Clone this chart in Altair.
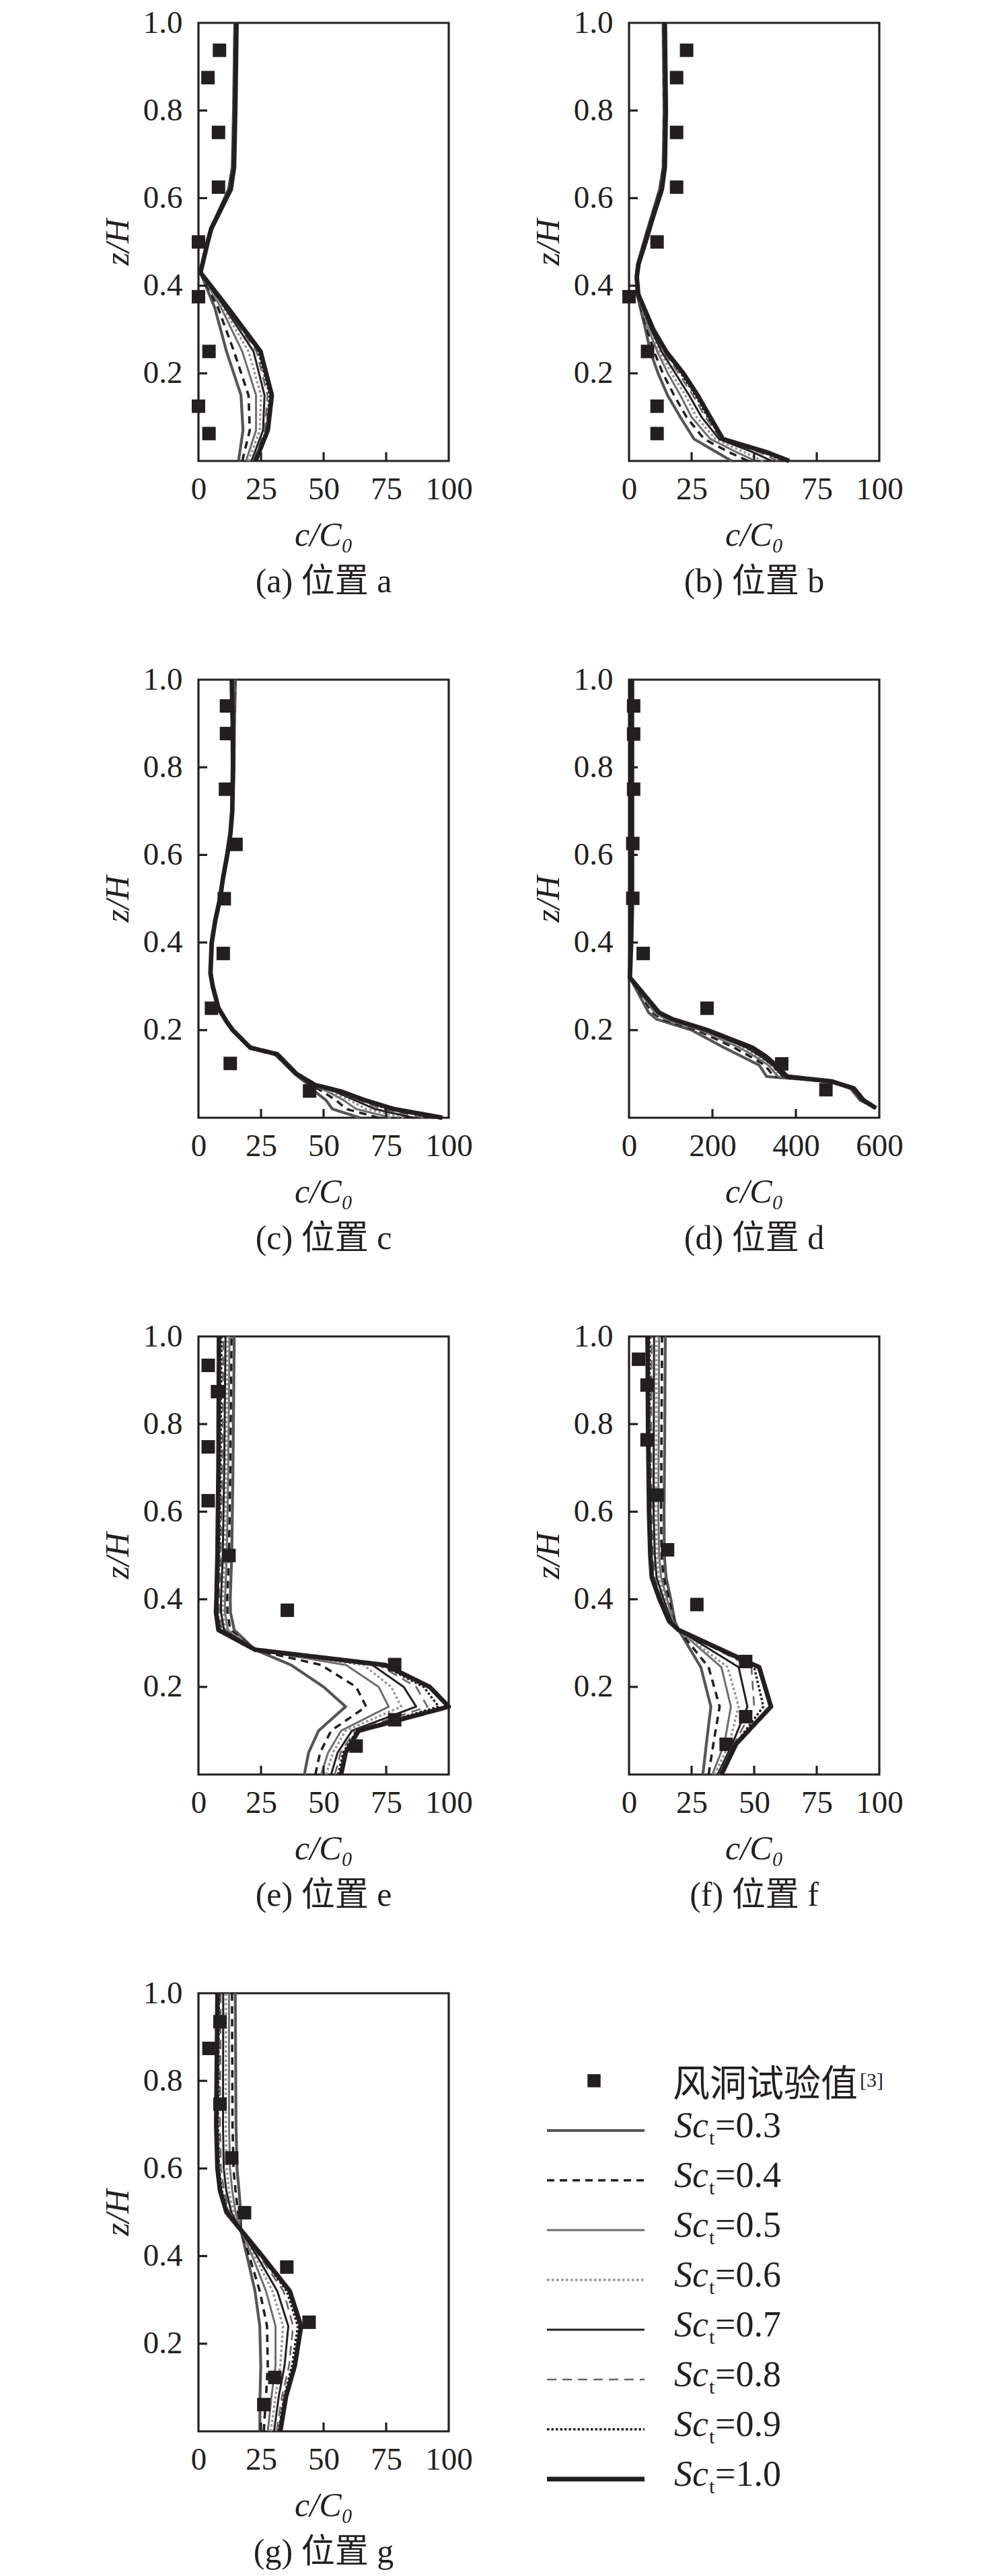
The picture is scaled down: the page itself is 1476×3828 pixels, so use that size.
import pandas as pd
import altair as alt

FONT = "Liberation Serif, Noto Sans CJK SC"
INK = "#231f20"
W, H = 372, 651

# --- series styling (Sc_t = 0.3 ... 1.0) ---
SC_LABELS = ["0.3", "0.4", "0.5", "0.6", "0.7", "0.8", "0.9", "1.0"]
SC_COLORS = ["#555555", "#231f20", "#6e6e6e", "#959595", "#231f20", "#666666", "#231f20", "#231f20"]
SC_DASHES = [[1, 0], [11, 8], [1, 0], [3.5, 3.5], [1, 0], [14, 9], [3.5, 3], [1, 0]]
SC_WIDTHS = [4.2, 3.6, 3.0, 3.4, 3.0, 2.6, 3.4, 6.8]

Y_TICKS = [0.2, 0.4, 0.6, 0.8, 1.0]
X_TICKS_100 = [0, 25, 50, 75, 100]
X_TICKS_600 = [0, 200, 400, 600]

# --- (a) ---
Z_A = [0.0, 0.07, 0.15, 0.25, 0.35, 0.43, 0.5, 0.53, 0.62, 0.67, 0.8, 1.0]
LINES_A = [
    [16.0, 17.8, 17.0, 11.2, 6.5, 0.8, 3.5, 4.8, 12.0, 13.5, 14.0, 14.5],
    [17.5, 20.5, 20.0, 14.2, 7.8, 0.8, 3.5, 4.8, 12.3, 13.7, 14.2, 14.7],
    [19.0, 23.0, 23.0, 17.5, 9.0, 0.8, 3.6, 4.9, 12.5, 13.8, 14.3, 14.8],
    [20.0, 24.5, 25.0, 20.0, 9.8, 0.8, 3.6, 4.9, 12.6, 13.9, 14.4, 14.9],
    [21.2, 25.8, 26.4, 22.0, 10.5, 0.8, 3.6, 5.0, 12.7, 14.0, 14.5, 15.0],
    [21.8, 26.5, 27.6, 23.2, 11.0, 0.8, 3.6, 5.0, 12.8, 14.0, 14.5, 15.0],
    [22.3, 27.2, 28.5, 24.0, 11.4, 0.8, 3.7, 5.0, 12.8, 14.1, 14.6, 15.1],
    [22.8, 27.7, 29.3, 24.8, 11.7, 0.8, 3.7, 5.1, 12.9, 14.2, 14.7, 15.2],
]
EXP_X_A = [8.4, 3.8, 8.0, 8.0, 0.0, 0.0, 4.2, 0.0, 4.2]
EXP_Z_A = [0.9375, 0.875, 0.75, 0.625, 0.5, 0.375, 0.25, 0.125, 0.0625]

# --- (b) ---
Z_B = [0.0, 0.02, 0.05, 0.1, 0.15, 0.2, 0.25, 0.3, 0.38, 0.42, 0.45, 0.5, 0.55, 0.62, 0.67, 0.8, 1.0]
LINES_B = [
    [41.0, 35.0, 26.0, 20.5, 15.4, 11.6, 8.5, 6.6, 3.2, 2.8, 3.4, 5.9, 8.5, 12.2, 13.6, 14.0, 13.6],
    [47.5, 40.0, 30.0, 23.0, 18.0, 13.5, 10.0, 7.2, 3.3, 2.8, 3.5, 6.0, 8.6, 12.4, 13.7, 14.1, 13.7],
    [50.5, 43.0, 32.5, 25.0, 20.5, 15.5, 11.3, 7.8, 3.4, 2.9, 3.5, 6.1, 8.7, 12.5, 13.8, 14.2, 13.8],
    [53.5, 46.0, 34.5, 27.0, 22.5, 17.0, 12.3, 8.3, 3.5, 2.9, 3.6, 6.2, 8.8, 12.7, 13.9, 14.3, 13.9],
    [57.0, 49.5, 36.0, 29.0, 24.0, 18.5, 13.0, 8.8, 3.5, 3.0, 3.6, 6.3, 8.9, 12.8, 14.0, 14.4, 14.0],
    [59.5, 52.0, 36.8, 30.5, 25.5, 19.8, 13.8, 9.2, 3.6, 3.0, 3.7, 6.4, 9.0, 12.9, 14.1, 14.5, 14.1],
    [62.0, 53.5, 37.2, 31.5, 26.5, 20.8, 14.3, 9.5, 3.6, 3.1, 3.7, 6.5, 9.1, 13.0, 14.2, 14.6, 14.2],
    [64.0, 55.0, 37.5, 32.4, 27.4, 21.7, 14.8, 9.7, 3.7, 3.1, 3.8, 6.6, 9.2, 13.1, 14.3, 14.7, 14.3],
]
EXP_X_B = [23.0, 19.0, 19.0, 19.0, 11.2, 0.0, 7.4, 11.2, 11.2]
EXP_Z_B = [0.9375, 0.875, 0.75, 0.625, 0.5, 0.375, 0.25, 0.125, 0.0625]

# --- (c) ---
Z_C = [0.0, 0.02, 0.04, 0.06, 0.075, 0.1, 0.145, 0.16, 0.2, 0.22, 0.25, 0.3, 0.33,
       0.4, 0.45, 0.5, 0.55, 0.6, 0.65, 0.7, 0.8, 0.9, 1.0]
LINES_C = [
    [64.5, 53.5, 51.0, 46.5, 44.0, 38.5, 30.5, 20.5, 13.7, 11.2, 8.0, 5.7, 4.8, 5.3, 6.7, 8.6, 9.9, 11.5, 12.8, 13.6, 14.2, 14.4, 14.8],
    [72.0, 59.0, 55.0, 49.5, 45.0, 38.7, 30.8, 20.6, 13.7, 11.2, 8.0, 5.7, 4.8, 5.3, 6.7, 8.6, 9.9, 11.5, 12.8, 13.6, 14.1, 14.3, 14.5],
    [77.0, 63.0, 58.0, 51.5, 45.5, 38.8, 31.0, 20.6, 13.7, 11.2, 8.0, 5.7, 4.8, 5.3, 6.7, 8.6, 9.9, 11.5, 12.8, 13.5, 14.0, 14.2, 14.3],
    [82.0, 67.0, 60.5, 53.0, 45.8, 38.9, 31.2, 20.7, 13.7, 11.2, 8.0, 5.7, 4.8, 5.3, 6.7, 8.6, 9.9, 11.5, 12.8, 13.5, 14.0, 14.1, 14.1],
    [86.0, 70.5, 62.5, 54.5, 46.0, 39.0, 31.3, 20.7, 13.7, 11.2, 8.0, 5.7, 4.8, 5.3, 6.7, 8.6, 9.9, 11.5, 12.8, 13.5, 13.9, 14.0, 13.9],
    [90.0, 73.0, 64.0, 55.5, 46.2, 39.0, 31.4, 20.7, 13.7, 11.2, 8.0, 5.7, 4.8, 5.3, 6.7, 8.6, 9.9, 11.5, 12.8, 13.5, 13.9, 13.9, 13.7],
    [94.0, 75.5, 65.5, 56.3, 46.4, 39.1, 31.5, 20.7, 13.7, 11.2, 8.0, 5.7, 4.8, 5.3, 6.7, 8.6, 9.9, 11.5, 12.8, 13.5, 13.8, 13.8, 13.5],
    [97.5, 78.0, 66.5, 57.0, 46.5, 39.2, 31.5, 20.7, 13.7, 11.2, 8.0, 5.7, 4.8, 5.3, 6.7, 8.6, 9.9, 11.5, 12.8, 13.5, 13.8, 13.7, 13.3],
]
EXP_X_C = [11.2, 11.2, 10.8, 15.0, 10.3, 9.9, 5.2, 12.7, 44.4]
EXP_Z_C = [0.94, 0.877, 0.75, 0.624, 0.5, 0.375, 0.25, 0.124, 0.061]

# --- (d) ---
Z_D = [0.022, 0.04, 0.067, 0.083, 0.094, 0.12, 0.14, 0.16, 0.2, 0.225, 0.24, 0.32, 0.4, 0.5, 0.6, 0.8, 1.0]
LINES_D = [
    [592, 554, 531, 480, 330, 312, 270, 228, 150, 66, 47, 2, 5, 7, 7, 7, 7],
    [592, 557, 534, 482, 347, 326, 290, 252, 163, 79, 56, 2, 5, 7, 7, 7, 7],
    [592, 558, 535, 483, 357, 334, 302, 265, 171, 87, 61, 2, 5, 7, 7, 7, 7],
    [592, 560, 537, 484, 364, 340, 311, 276, 177, 93, 65, 2, 5, 7, 7, 7, 7],
    [592, 560, 537, 485, 369, 344, 316, 282, 180, 96, 67, 2, 5, 7, 7, 7, 7],
    [592, 561, 538, 485, 373, 347, 321, 288, 183, 99, 69, 2, 5, 7, 7, 7, 7],
    [592, 561, 538, 486, 376, 350, 325, 292, 186, 102, 70, 2, 5, 7, 7, 7, 7],
    [592, 562, 539, 486, 379, 352, 328, 296, 188, 104, 72, 2, 5, 7, 7, 7, 7],
]
EXP_X_D = [11, 11, 11, 9, 9, 34, 187, 366, 472]
EXP_Z_D = [0.94, 0.876, 0.75, 0.626, 0.501, 0.375, 0.25, 0.123, 0.064]

# --- (e) ---
Z_E = [0.0, 0.05, 0.1, 0.155, 0.2, 0.25, 0.285, 0.33, 0.37, 0.4, 0.5, 0.7, 1.0]
LINES_E = [
    [42.3, 44.0, 48.0, 58.8, 50.0, 37.0, 22.6, 14.3, 12.8, 12.7, 13.3, 13.8, 14.3],
    [46.7, 48.6, 53.0, 67.0, 63.0, 49.0, 22.6, 12.8, 11.6, 11.5, 12.2, 12.7, 13.2],
    [49.0, 51.8, 57.0, 76.0, 72.0, 59.0, 22.6, 11.8, 10.6, 10.6, 11.3, 11.9, 12.4],
    [51.0, 53.7, 58.8, 81.0, 77.0, 66.0, 22.6, 11.0, 9.8, 9.8, 10.5, 11.1, 11.6],
    [53.0, 55.6, 61.3, 87.0, 82.0, 69.5, 22.6, 10.2, 9.0, 9.0, 9.7, 10.3, 10.8],
    [54.5, 56.8, 62.5, 91.5, 87.0, 72.0, 22.6, 9.4, 8.2, 8.2, 8.9, 9.5, 10.0],
    [55.8, 57.8, 63.3, 96.0, 90.0, 73.3, 22.6, 8.7, 7.6, 7.7, 8.3, 8.8, 9.2],
    [57.0, 58.8, 64.0, 100.0, 92.4, 74.6, 22.6, 8.0, 7.0, 7.2, 7.6, 8.0, 8.2],
]
EXP_X_E = [3.9, 7.6, 3.9, 3.9, 12.2, 35.5, 78.4, 78.4, 63.0]
EXP_Z_E = [0.934, 0.874, 0.748, 0.625, 0.5, 0.375, 0.251, 0.125, 0.065]

# --- (f) ---
Z_F = [0.0, 0.07, 0.155, 0.245, 0.33, 0.35, 0.4, 0.45, 0.5, 0.6, 0.8, 1.0]
LINES_F = [
    [29.5, 30.9, 32.7, 28.7, 19.8, 18.3, 16.7, 14.8, 14.1, 14.0, 14.3, 14.5],
    [31.8, 33.7, 36.2, 31.8, 19.8, 18.0, 16.0, 13.8, 13.0, 12.8, 13.0, 13.2],
    [33.3, 38.1, 40.7, 36.9, 19.8, 17.6, 15.2, 12.8, 12.0, 11.7, 11.9, 12.0],
    [34.3, 40.0, 43.8, 39.4, 19.8, 17.3, 14.5, 11.9, 11.1, 10.7, 10.9, 11.0],
    [35.4, 41.3, 47.3, 43.8, 19.8, 17.0, 13.8, 11.0, 10.3, 9.8, 9.9, 10.0],
    [36.0, 42.0, 50.0, 48.9, 19.8, 16.6, 13.2, 10.2, 9.6, 9.0, 8.9, 9.0],
    [36.5, 42.5, 53.7, 50.0, 19.8, 16.3, 12.7, 9.6, 9.0, 8.5, 8.2, 8.2],
    [36.9, 42.8, 56.7, 52.0, 19.8, 16.0, 12.2, 9.1, 8.5, 8.0, 7.6, 7.4],
]
EXP_X_F = [3.8, 7.2, 7.2, 11.2, 15.4, 27.1, 46.6, 46.6, 38.8]
EXP_Z_F = [0.948, 0.889, 0.764, 0.638, 0.513, 0.388, 0.258, 0.132, 0.069]

# --- (g) ---
Z_G = [0.0, 0.08, 0.15, 0.24, 0.32, 0.4, 0.46, 0.5, 0.55, 0.6, 0.7, 1.0]
LINES_G = [
    [24.5, 24.6, 24.9, 24.5, 22.6, 19.4, 16.9, 16.9, 16.2, 15.4, 15.0, 14.7],
    [26.1, 27.0, 27.7, 27.4, 24.5, 20.3, 16.9, 15.8, 14.8, 14.0, 13.6, 13.4],
    [27.7, 29.2, 30.8, 30.8, 27.0, 21.5, 16.9, 14.8, 13.5, 12.6, 12.2, 12.2],
    [28.9, 30.8, 32.7, 33.8, 29.6, 22.5, 16.9, 13.9, 12.2, 11.3, 10.9, 11.0],
    [30.2, 32.1, 34.4, 35.9, 31.5, 23.4, 16.9, 13.1, 11.1, 10.1, 9.8, 9.9],
    [31.2, 33.4, 36.2, 37.8, 34.0, 24.3, 16.9, 12.4, 10.2, 9.0, 8.6, 8.9],
    [32.0, 34.3, 37.4, 39.7, 35.3, 25.0, 16.9, 11.8, 9.3, 8.2, 7.8, 8.2],
    [32.7, 35.0, 38.5, 41.0, 36.5, 25.5, 16.9, 11.2, 8.6, 7.6, 7.1, 7.6],
]
EXP_X_G = [8.6, 4.2, 8.6, 13.3, 18.4, 35.3, 44.2, 30.5, 26.1]
EXP_Z_G = [0.935, 0.874, 0.747, 0.624, 0.499, 0.375, 0.249, 0.123, 0.061]

PANELS = [
    ("(a) 位置 a", Z_A, LINES_A, EXP_X_A, EXP_Z_A, X_TICKS_100),
    ("(b) 位置 b", Z_B, LINES_B, EXP_X_B, EXP_Z_B, X_TICKS_100),
    ("(c) 位置 c", Z_C, LINES_C, EXP_X_C, EXP_Z_C, X_TICKS_100),
    ("(d) 位置 d", Z_D, LINES_D, EXP_X_D, EXP_Z_D, X_TICKS_600),
    ("(e) 位置 e", Z_E, LINES_E, EXP_X_E, EXP_Z_E, X_TICKS_100),
    ("(f) 位置 f", Z_F, LINES_F, EXP_X_F, EXP_Z_F, X_TICKS_100),
    ("(g) 位置 g", Z_G, LINES_G, EXP_X_G, EXP_Z_G, X_TICKS_100),
]
WIDTH_OF = dict(zip(SC_LABELS, SC_WIDTHS))

color_enc = alt.Color("sc:O", scale=alt.Scale(domain=SC_LABELS, range=SC_COLORS), legend=None)
dash_enc = alt.StrokeDash("sc:O", scale=alt.Scale(domain=SC_LABELS, range=SC_DASHES), legend=None)
# linear 1:1 scale, so each series gets its own pixel width
width_enc = alt.StrokeWidth("w:Q", scale=alt.Scale(domain=[0, 10], range=[0, 10], zero=True), legend=None)


def profile_panel(caption, z, lines, exp_x, exp_z, x_ticks):
    prof = pd.DataFrame(
        [{"sc": sc, "w": WIDTH_OF[sc], "z": zi, "c": ci}
         for sc, xs in zip(SC_LABELS, lines) for zi, ci in zip(z, xs)]
    )
    exp = pd.DataFrame({"c": exp_x, "z": exp_z})

    x_enc = alt.X("c:Q", scale=alt.Scale(domain=[0, x_ticks[-1]], nice=False),
                  axis=alt.Axis(values=x_ticks, format="d", title="c/C₀",
                                labelPadding=19, titlePadding=20, titleFontStyle="italic"))
    y_enc = alt.Y("z:Q", scale=alt.Scale(domain=[0, 1], nice=False),
                  axis=alt.Axis(values=Y_TICKS, format=".1f", title="z/H",
                                labelPadding=24, titlePadding=12, titleFontStyle="italic"))

    curves = alt.Chart(prof).mark_line(strokeJoin="round").encode(
        x=x_enc, y=y_enc, color=color_enc, strokeDash=dash_enc,
        strokeWidth=width_enc, detail="sc:N", order="z:Q")
    points = alt.Chart(exp).mark_square(size=400, color=INK, opacity=1).encode(x=x_enc, y=y_enc)
    # inward ticks
    y_ticks = alt.Chart(pd.DataFrame({"z": Y_TICKS[:-1]})).mark_rule(
        color=INK, strokeWidth=3.2).encode(y=y_enc, x=alt.value(0), x2=alt.value(13))
    x_ticks_in = alt.Chart(pd.DataFrame({"c": x_ticks[1:-1]})).mark_rule(
        color=INK, strokeWidth=3.2).encode(x=x_enc, y=alt.value(H), y2=alt.value(H - 13))

    return alt.layer(curves, points, y_ticks, x_ticks_in).properties(
        width=W, height=H,
        title=alt.TitleParams(caption, orient="bottom", anchor="middle", font=FONT,
                              fontSize=50, fontWeight="normal", color=INK, offset=20),
    )


# --- legend panel ---
LEGEND_KEYS = ["exp"] + SC_LABELS
leg_y = alt.Y("key:N", scale=alt.Scale(type="point", domain=LEGEND_KEYS, range=[130, 722], padding=0),
              axis=None)
leg_sc = pd.DataFrame({"key": SC_LABELS, "sc": SC_LABELS, "w": SC_WIDTHS,
                       "eq": ["=" + s for s in SC_LABELS]})
leg_exp = pd.DataFrame({"key": ["exp"]})

leg_square = alt.Chart(leg_exp).mark_square(size=380, color=INK, opacity=1).encode(
    y=leg_y, x=alt.value(-52))
leg_exp_text = alt.Chart(leg_exp).mark_text(
    text="风洞试验值", font=FONT, fontSize=55, align="left", baseline="middle", dy=6, color=INK
).encode(y=leg_y, x=alt.value(65))
leg_ref = alt.Chart(leg_exp).mark_text(
    text="[3]", font=FONT, fontSize=30, align="left", baseline="middle", color=INK
).encode(y=leg_y, x=alt.value(343))
leg_lines = alt.Chart(leg_sc).mark_rule(strokeCap="butt").encode(
    y=leg_y, x=alt.value(-122), x2=alt.value(23),
    color=color_enc, strokeDash=dash_enc, strokeWidth=width_enc)
leg_sc_text = alt.Chart(leg_sc).mark_text(
    text="Sc", font=FONT, fontSize=54, fontStyle="italic", align="left",
    baseline="alphabetic", dy=10, color=INK
).encode(y=leg_y, x=alt.value(67))
leg_sub = alt.Chart(leg_sc).mark_text(
    text="t", font=FONT, fontSize=30, align="left", baseline="alphabetic", dy=21, color=INK
).encode(y=leg_y, x=alt.value(119))
leg_eq = alt.Chart(leg_sc).mark_text(
    font=FONT, fontSize=54, align="left", baseline="alphabetic", dy=10, color=INK
).encode(y=leg_y, x=alt.value(128), text="eq:N")

legend = alt.layer(leg_lines, leg_square, leg_exp_text, leg_ref, leg_sc_text, leg_sub, leg_eq).properties(
    width=W, height=H, view=alt.ViewBackground(stroke="transparent"))

cells = [profile_panel(*p) for p in PANELS] + [legend]

chart = alt.concat(
    *cells, columns=2, spacing={"row": 325, "column": 268}, bounds="flush"
).properties(
    padding={"left": 140, "top": 0, "right": 10, "bottom": 5}
).configure_view(
    stroke=INK, strokeWidth=3.2
).configure_axis(
    domain=False, ticks=False, grid=False, labelFlush=False,
    labelFont=FONT, labelFontSize=47, labelColor=INK,
    titleFont=FONT, titleFontSize=50, titleFontWeight="normal", titleColor=INK,
)

chart.save("out.html", embed_options={"renderer": "svg", "actions": False})
